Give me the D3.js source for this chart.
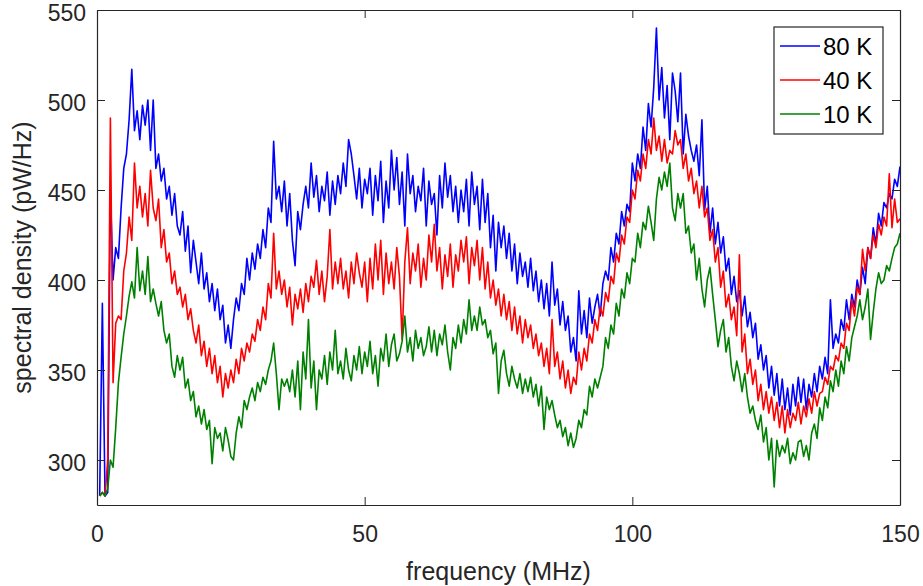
<!DOCTYPE html>
<html>
<head>
<meta charset="utf-8">
<script src="https://cdn.jsdelivr.net/npm/d3@7"></script>
<style>
  body { margin: 0; background: #fff; }
  svg { display: block; font-family: "Liberation Sans", Arial, sans-serif; }
</style>
</head>
<body>
<div id="chart"></div>
<script>
'use strict';

// spectrum sampled every 0.5 MHz starting at 0.5 MHz
const freqStart = 0.5;
const freqStep = 0.5;

const series80K = [
  280, 387, 280, 282, 450, 400, 418, 412, 440, 462,
  470, 489, 517, 483, 494, 478, 497, 486, 500, 472,
  500, 462, 470, 455, 462, 445, 452, 436, 448, 430,
  425, 438, 416, 430, 404, 422, 410, 398, 415, 395,
  404, 388, 398, 383, 395, 378, 386, 365, 375, 362,
  378, 390, 383, 398, 392, 412, 400, 415, 406, 420,
  412, 428, 418, 440, 432, 477, 445, 452, 438, 455,
  430, 448, 422, 408, 438, 428, 442, 452, 440, 465,
  446, 458, 438, 452, 444, 460, 436, 455, 442, 458,
  448, 465, 452, 478, 470, 458, 445, 462, 440, 456,
  448, 462, 436, 458, 444, 466, 432, 455, 440, 472,
  450, 468, 442, 460, 430, 470, 448, 458, 438, 452,
  444, 462, 430, 455, 442, 448, 425, 458, 440, 465,
  446, 458, 438, 452, 432, 450, 438, 456, 430, 460,
  442, 452, 428, 456, 432, 448, 418, 436, 405, 432,
  418, 430, 412, 426, 405, 420, 398, 415, 402, 410,
  396, 412, 394, 405, 388, 400, 384, 398, 380, 410,
  386, 395, 375, 388, 372, 380, 360, 368, 355, 394,
  370, 383, 368, 390, 376, 385, 392, 380, 398, 405,
  400, 418, 410, 426, 420, 438, 430, 442, 438, 465,
  455, 470, 462, 485, 472, 498, 485, 507, 540, 500,
  518, 490, 508, 478, 515, 505, 488, 515, 470, 492,
  480, 472, 466, 475, 458, 489, 439, 452, 426, 440,
  420, 432, 415, 424, 405, 412, 392, 402, 388, 394,
  380, 391, 374, 382, 368, 376, 356, 364, 350, 358,
  340, 352, 336, 348, 330, 345, 328, 340, 325, 342,
  330, 346, 332, 345, 328, 342, 335, 348, 338, 352,
  345, 357, 348, 389, 362, 370, 365, 378, 372, 389,
  378, 392, 385, 400, 392, 407, 398, 418, 412, 429,
  420, 437, 430, 443, 440, 448, 445, 456, 452, 463
];

const series40K = [
  280, 282, 280, 300, 490, 343, 376, 380, 378, 405,
  415, 435, 422, 465, 440, 452, 435, 448, 430, 461,
  440, 433, 445, 418, 428, 410, 415, 398, 405, 392,
  396, 385, 392, 378, 384, 372, 365, 375, 358, 366,
  352, 362, 348, 358, 343, 352, 335, 348, 340, 350,
  343, 356, 348, 362, 355, 365, 360, 370, 366, 378,
  372, 385, 378, 398, 390, 426, 395, 405, 392, 400,
  385, 396, 375, 392, 384, 395, 382, 398, 388, 402,
  396, 411, 392, 405, 388, 402, 428, 395, 410, 398,
  412, 395, 405, 390, 410, 398, 415, 404, 396, 410,
  388, 412, 395, 420, 400, 422, 392, 415, 398, 410,
  395, 418, 402, 367, 410, 429, 398, 415, 405, 420,
  396, 412, 400, 425, 410, 431, 405, 418, 395, 414,
  402, 420, 396, 414, 405, 422, 410, 424, 398, 418,
  408, 422, 400, 418, 395, 410, 390, 400, 386, 395,
  380, 392, 378, 388, 372, 385, 370, 380, 365, 378,
  368, 375, 362, 370, 358, 365, 352, 362, 348, 378,
  352, 360, 345, 355, 340, 350, 337, 346, 342, 360,
  350, 362, 355, 370, 365, 378, 372, 385, 380, 393,
  388, 402, 398, 415, 410, 425, 420, 435, 432, 450,
  445, 461, 455, 470, 462, 478, 470, 490, 472, 480,
  466, 478, 465, 472, 470, 483, 475, 478, 462, 470,
  455, 462, 448, 455, 440, 452, 435, 440, 422, 428,
  410, 418, 396, 405, 385, 392, 378, 385, 369, 414,
  360, 370, 348, 356, 342, 350, 333, 342, 328, 338,
  326, 335, 322, 332, 318, 330, 315, 328, 318, 326,
  322, 332, 320, 330, 324, 334, 326, 338, 330, 337,
  338, 346, 342, 352, 350, 358, 355, 365, 362, 376,
  372, 389, 380, 396, 392, 417, 405, 418, 412, 425,
  418, 431, 425, 435, 430, 459, 429, 445, 432, 434
];

const series10K = [
  280, 282, 280, 284, 300, 296, 318, 343, 357, 370,
  380, 391, 399, 390, 418, 394, 405, 392, 413, 388,
  395, 387, 380, 388, 372, 365, 370, 352, 346, 358,
  350, 357, 340, 345, 333, 338, 324, 330, 320, 328,
  317, 322, 298, 318, 312, 315, 305, 318, 311, 302,
  300, 315, 324, 318, 333, 328, 335, 340, 333, 343,
  338, 346, 342, 350, 355, 365, 348, 328, 345, 341,
  345, 338, 350, 335, 355, 328, 360, 345, 378, 340,
  355, 328, 350, 345, 358, 342, 360, 350, 372, 348,
  355, 345, 362, 350, 344, 358, 350, 363, 348, 360,
  352, 366, 348, 358, 341, 362, 355, 370, 352, 364,
  370, 355, 359, 366, 380, 360, 368, 355, 372, 362,
  368, 358, 363, 374, 360, 372, 358, 370, 364, 375,
  360, 350, 368, 362, 375, 365, 378, 370, 389, 372,
  380, 372, 385, 375, 378, 368, 372, 359, 365, 337,
  355, 361, 348, 341, 352, 345, 340, 348, 337, 345,
  338, 346, 335, 342, 330, 341, 317, 335, 328, 333,
  325, 318, 322, 313, 318, 308, 315, 307, 312, 322,
  318, 328, 325, 341, 335, 345, 340, 346, 352, 368,
  362, 375, 370, 387, 380, 395, 390, 404, 398, 412,
  410, 426, 418, 432, 428, 441, 432, 422, 445, 457,
  450, 460, 452, 465, 440, 433, 448, 440, 448, 426,
  430, 415, 420, 400, 412, 395, 385, 400, 407, 392,
  378, 363, 372, 378, 360, 368, 352, 344, 355, 348,
  338, 348, 335, 326, 330, 322, 317, 325, 310, 318,
  300, 312, 285, 311, 302, 308, 304, 312, 298, 304,
  300, 310, 311, 302, 308, 300, 315, 320, 312, 329,
  322, 335, 329, 344, 338, 350, 341, 355, 348, 363,
  355, 368, 374, 380, 389, 378, 385, 395, 367, 382,
  395, 404, 398, 400, 408, 405, 412, 418, 420, 426
];

const seriesNames = ['80 K', '40 K', '10 K'];
const seriesColors = ['#0000ff', '#ff0000', '#008000'];
const xTicks = [0, 50, 100, 150];
const yTicks = [300, 350, 400, 450, 500, 550];

const width = 923, height = 586;
const margin = { top: 10, right: 23, bottom: 81, left: 97 };
const plotW = width - margin.left - margin.right;
const plotH = height - margin.top - margin.bottom;
const axisColor = '#262626';

var svg = d3.select('#chart').append('svg')
  .attr('width', width)
  .attr('height', height);

var x = d3.scaleLinear().domain([0, 150]).range([0, plotW]);
var y = d3.scaleLinear().domain([275, 550]).range([plotH, 0]);

var g = svg.append('g')
  .attr('transform', 'translate(' + margin.left + ',' + margin.top + ')');

g.append('clipPath').attr('id', 'plotClip')
  .append('rect').attr('width', plotW).attr('height', plotH);

// lines, 80 K first so 10 K ends on top
var allSeries = [series80K, series40K, series10K];
var line = d3.line()
  .x(function(d, i) { return x(freqStart + i * freqStep); })
  .y(function(d) { return y(d); });

g.append('g').attr('clip-path', 'url(#plotClip)')
  .selectAll('path')
  .data(allSeries)
  .enter().append('path')
  .attr('d', line)
  .attr('fill', 'none')
  .attr('stroke', function(d, i) { return seriesColors[i]; })
  .attr('stroke-width', 1.6)
  .attr('stroke-linejoin', 'round');

// axes (ticks pointing inward, box all round)
function styleAxis(sel) {
  sel.selectAll('path').attr('stroke', axisColor).attr('stroke-width', 1.2);
  sel.selectAll('line').attr('stroke', axisColor).attr('stroke-width', 1);
  sel.selectAll('text')
    .attr('fill', axisColor)
    .style('font-size', '23px')
    .style('font-family', '"Liberation Sans", Arial, sans-serif');
}

var bottomAxis = g.append('g')
  .attr('transform', 'translate(0,' + plotH + ')')
  .call(d3.axisBottom(x).tickValues(xTicks).tickSizeInner(-8).tickSizeOuter(0).tickPadding(21));
styleAxis(bottomAxis);

var leftAxis = g.append('g')
  .call(d3.axisLeft(y).tickValues(yTicks).tickSizeInner(-8).tickSizeOuter(0).tickPadding(11));
styleAxis(leftAxis);
leftAxis.selectAll('text').attr('dy', '0.45em');

var topAxis = g.append('g')
  .call(d3.axisTop(x).tickValues(xTicks).tickSizeInner(-8).tickSizeOuter(0).tickFormat(''));
styleAxis(topAxis);

var rightAxis = g.append('g')
  .attr('transform', 'translate(' + plotW + ',0)')
  .call(d3.axisRight(y).tickValues(yTicks).tickSizeInner(-8).tickSizeOuter(0).tickFormat(''));
styleAxis(rightAxis);

// axis labels
svg.append('text')
  .attr('x', margin.left + plotW / 2)
  .attr('y', 580)
  .attr('text-anchor', 'middle')
  .attr('fill', axisColor)
  .style('font-size', '25px')
  .text('frequency (MHz)');

svg.append('text')
  .attr('transform', 'translate(31,' + (margin.top + plotH / 2) + ') rotate(-90)')
  .attr('text-anchor', 'middle')
  .attr('fill', axisColor)
  .style('font-size', '25px')
  .text('spectral density (pW/Hz)');

// legend
var legend = g.append('g')
  .attr('transform', 'translate(' + (774 - margin.left) + ',' + (27 - margin.top) + ')');

legend.append('rect')
  .attr('width', 109)
  .attr('height', 107)
  .attr('fill', '#fff')
  .attr('stroke', axisColor)
  .attr('stroke-width', 1.2);

var items = legend.selectAll('.item')
  .data(seriesNames)
  .enter().append('g')
  .attr('class', 'item')
  .attr('transform', function(d, i) { return 'translate(0,' + (19 + i * 34) + ')'; });

items.append('line')
  .attr('x1', 6).attr('x2', 46)
  .attr('stroke', function(d, i) { return seriesColors[i]; })
  .attr('stroke-width', 1.4);

items.append('text')
  .attr('x', 49)
  .attr('dy', '0.36em')
  .attr('fill', '#000')
  .style('font-size', '24px')
  .text(function(d) { return d; });
</script>
</body>
</html>
